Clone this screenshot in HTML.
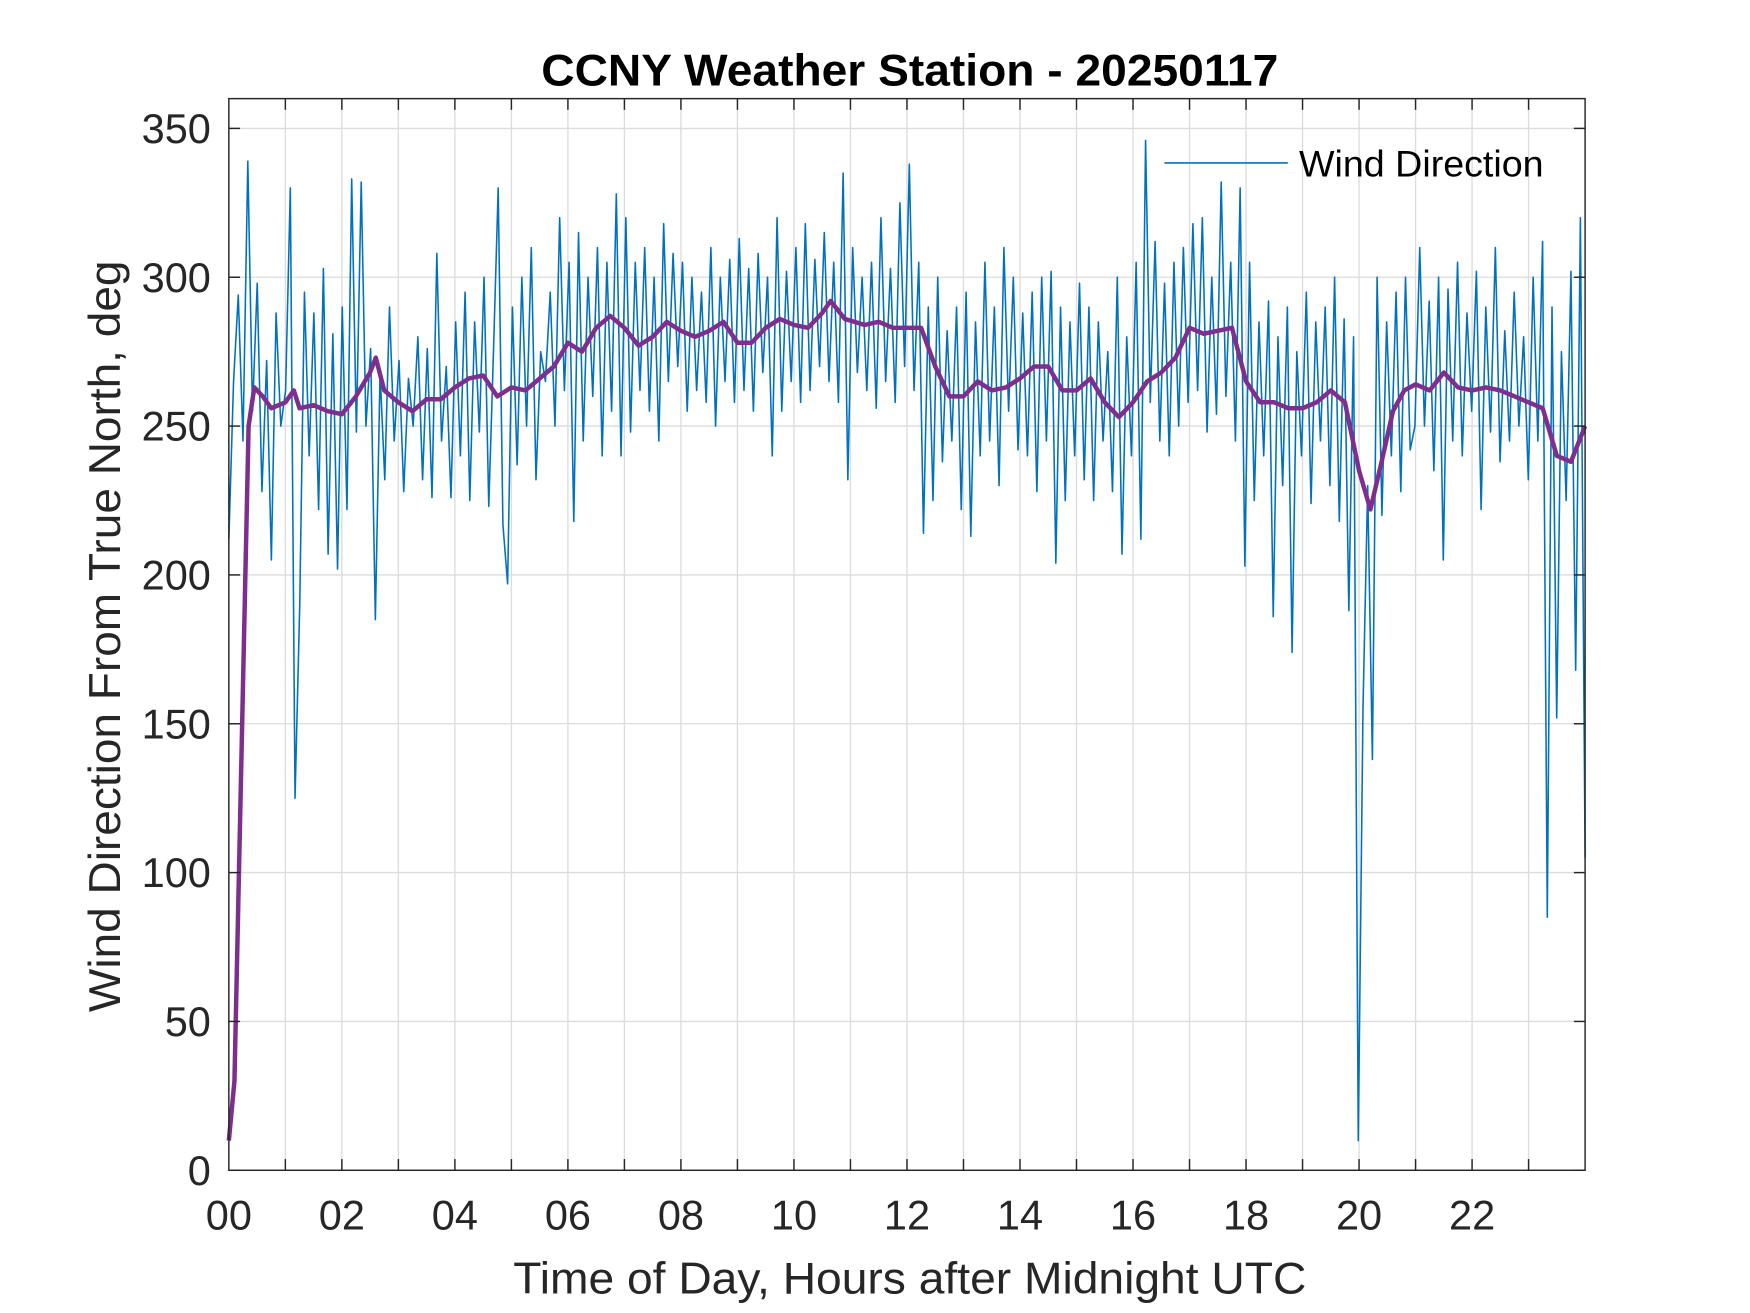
<!DOCTYPE html>
<html><head><meta charset="utf-8"><style>
html,body{margin:0;padding:0;background:#fff;}
svg{display:block;font-family:"Liberation Sans",Arial,sans-serif;}
</style></head><body>
<svg id="chart" width="1750" height="1313" viewBox="0 0 1560 1170" xmlns="http://www.w3.org/2000/svg">
<rect x="0" y="0" width="1560" height="1170" fill="#fff"/>
<g id="grid"></g>
<g id="series"></g>
<rect x="204" y="87.7" width="1209" height="955.3" fill="none" stroke="#262626" stroke-width="1.3"/>
<g id="ticks"></g>
<text x="811" y="76" text-anchor="middle" font-size="40" font-weight="bold" fill="#000" textLength="657" lengthAdjust="spacingAndGlyphs">CCNY Weather Station - 20250117</text>
<text x="811" y="1153" text-anchor="middle" font-size="40" fill="#262626" textLength="707" lengthAdjust="spacingAndGlyphs">Time of Day, Hours after Midnight UTC</text>
<text transform="translate(107,567) rotate(-90)" text-anchor="middle" font-size="40" fill="#262626" textLength="670" lengthAdjust="spacingAndGlyphs">Wind Direction From True North, deg</text>
<g>
<line x1="1038" y1="145" x2="1148" y2="145" stroke="#0072BD" stroke-width="1.5"/>
<text x="1158" y="157" font-size="33" fill="#000" textLength="218" lengthAdjust="spacingAndGlyphs">Wind Direction</text>
</g>
</svg>
<script>
const xTicks=[0,2,4,6,8,10,12,14,16,18,20,22];
const xTickLabels=["00","02","04","06","08","10","12","14","16","18","20","22"];
const yTicks=[0,50,100,150,200,250,300,350];
const blueValues=[
212,265,294,245,339,255,298,228,272,205,288,250,
262,330,125,190,295,240,288,222,303,207,281,202,
290,222,333,248,332,250,276,185,268,232,290,245,
272,228,266,250,280,232,276,226,308,245,270,226,
285,240,295,225,285,248,300,223,275,330,217,197,
290,237,300,250,310,232,275,265,295,250,320,262,
305,218,315,245,300,260,310,240,305,255,328,240,
320,248,305,262,310,255,300,245,318,265,308,270,
305,255,300,262,295,258,310,250,300,265,306,258,
313,262,303,255,308,268,300,240,320,255,302,265,
310,258,318,262,306,270,315,265,305,258,335,232,
310,268,300,262,305,256,320,265,303,258,325,270,
338,262,305,214,290,225,300,238,282,245,290,222,
295,213,285,240,305,245,290,230,310,255,300,242,
288,240,295,228,300,245,302,204,290,225,285,240,
298,232,290,225,285,245,275,228,300,207,280,240,
305,212,346,258,312,245,298,240,305,250,310,258,
318,262,320,248,300,254,332,260,305,245,330,203,
305,225,285,240,292,186,280,230,290,174,275,240,
295,224,285,245,290,230,300,218,286,188,280,10,
155,230,138,300,220,285,240,295,228,300,242,250,
310,250,292,235,300,205,296,245,305,240,288,255,
302,222,290,248,310,238,282,245,295,250,280,232,
300,245,312,85,290,152,275,225,302,168,320,105];
const avgHours=[0,0.1,0.35,0.45,0.6,0.75,1,1.15,1.25,1.5,1.75,2,2.25,2.5,2.6,2.75,3,3.25,3.5,3.75,4,4.25,4.5,4.75,5,5.25,5.5,5.75,6,6.25,6.5,6.75,7,7.25,7.5,7.75,8,8.25,8.5,8.75,9,9.25,9.5,9.75,10,10.25,10.5,10.65,10.9,11.25,11.5,11.75,12,12.25,12.5,12.75,13,13.25,13.5,13.75,14,14.25,14.5,14.75,15,15.25,15.5,15.75,16,16.25,16.5,16.75,17,17.25,17.5,17.75,18,18.25,18.5,18.75,19,19.25,19.5,19.75,20,20.2,20.4,20.6,20.8,21,21.25,21.5,21.75,22,22.25,22.5,22.75,23,23.25,23.5,23.75,24];
const avgValues=[10,30,250,263,260,256,258,262,256,257,255,254,260,268,273,262,258,255,259,259,263,266,267,260,263,262,266,270,278,275,283,287,283,277,280,285,282,280,282,285,278,278,283,286,284,283,288,292,286,284,285,283,283,283,270,260,260,265,262,263,266,270,270,262,262,266,258,253,258,265,268,273,283,281,282,283,265,258,258,256,256,258,262,258,235,222,238,255,262,264,262,268,263,262,263,262,260,258,256,240,238,250];

const X0=204,X1=1413,Y0=1043,Y1=87.7,XMAX=24,YMAX=360;
const xs=h=>X0+(X1-X0)*h/XMAX;
const ys=v=>Y0-(Y0-Y1)*v/YMAX;
const NS="http://www.w3.org/2000/svg";
function mk(tag,attrs,parent){const e=document.createElementNS(NS,tag);for(const k in attrs)e.setAttribute(k,attrs[k]);parent.appendChild(e);return e;}
const grid=document.getElementById('grid'),ticks=document.getElementById('ticks'),series=document.getElementById('series');
for(let h=1;h<24;h++){
  const l=mk('line',{x1:xs(h),x2:xs(h),y1:Y1,y2:Y0,stroke:'#dcdcdc','stroke-width':1.2},grid);
  
  
  [[Y0,Y0-10],[Y1,Y1+10]].forEach(p=>{const t=mk('line',{x1:xs(h),x2:xs(h),y1:p[0],y2:p[1],stroke:'#262626','stroke-width':1.3},ticks);
    
    });
}
yTicks.forEach(v=>{
  if(v>0){const l=mk('line',{x1:X0,x2:X1,y1:ys(v),y2:ys(v),stroke:'#dcdcdc','stroke-width':1.2},grid);
  
  }
  [[X0,X0+10],[X1,X1-10]].forEach(p=>{const t=mk('line',{x1:p[0],x2:p[1],y1:ys(v),y2:ys(v),stroke:'#262626','stroke-width':1.3},ticks);
    
    });
  const tx=mk('text',{x:X0-16,y:ys(v)+13,'text-anchor':'end','font-size':37,fill:'#262626'},ticks);
  tx.textContent=v;
  
  
});
xTicks.forEach((h,i)=>{
  const tx=mk('text',{x:xs(h),y:Y0+53,'text-anchor':'middle','font-size':37,fill:'#262626'},ticks);
  tx.textContent=xTickLabels[i];
  
  
});
const n=blueValues.length;
const bp=blueValues.map((v,i)=>xs(i*XMAX/(n-1)).toFixed(1)+','+ys(v).toFixed(1)).join(' ');
const blue=mk('polyline',{points:bp,fill:'none',stroke:'#0072BD','stroke-width':1.4,'stroke-linejoin':'round'},series);


const ap=avgValues.map((v,i)=>xs(avgHours[i]).toFixed(1)+','+ys(v).toFixed(1)).join(' ');
const avg=mk('polyline',{points:ap,fill:'none',stroke:'#7E2F8E','stroke-width':4,'stroke-linejoin':'round'},series);


</script>
</body></html>
